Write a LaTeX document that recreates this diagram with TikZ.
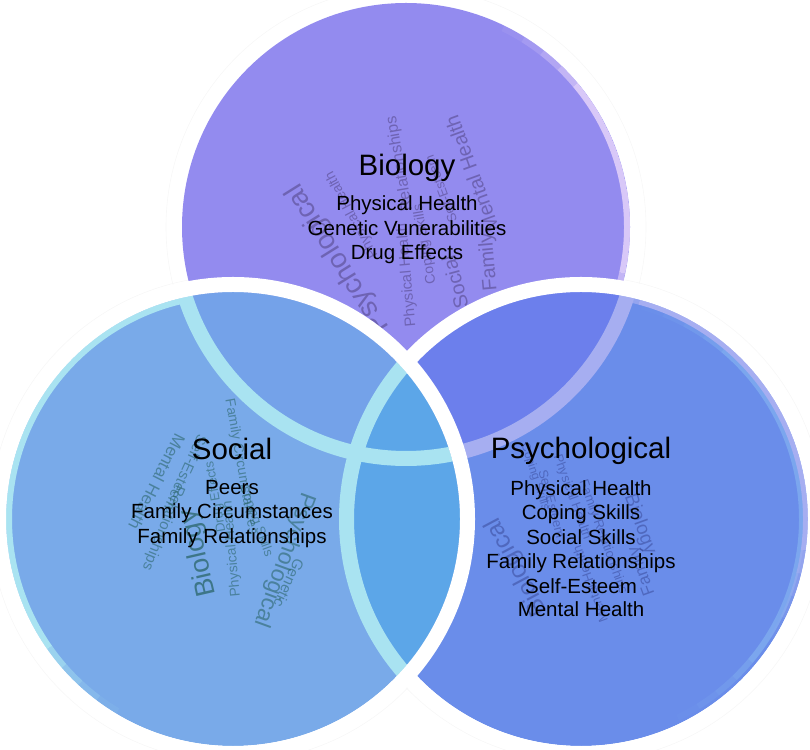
\documentclass[tikz,border=0pt]{standalone}
\usepackage{fontspec}
\setmainfont{Liberation Sans}
\definecolor{cT}{HTML}{938BEF}
\definecolor{cTrim}{HTML}{D8C8F8}
\definecolor{cR}{HTML}{6A8DEA}
\definecolor{cRT}{HTML}{6C7FEC}
\definecolor{cRrim}{HTML}{A6AEF1}
\definecolor{cRrimB}{HTML}{7BA6EE}
\definecolor{cL}{HTML}{79AAE9}
\definecolor{cLT}{HTML}{74A2E9}
\definecolor{cLR}{HTML}{5CA6E8}
\definecolor{cLrim}{HTML}{A9E3F1}
\definecolor{wT}{HTML}{4A3C78}
\definecolor{wL}{HTML}{24605F}
\definecolor{wR}{HTML}{33418F}
\tikzset{
  faintline/.style={draw=black!3,line width=0.6pt},
  whitering/.style={draw=white,line width=15pt},
  title/.style={font=\fontsize{29.5}{34}\selectfont,text=black,anchor=base},
  item/.style={font=\fontsize{20.5}{24}\selectfont,text=black,anchor=base},
  cloudT/.style={text=wT,opacity=0.5,inner sep=0pt},
  cloudL/.style={text=wL,opacity=0.55,inner sep=0pt},
  cloudR/.style={text=wR,opacity=0.48,inner sep=0pt},
}
\newcommand{\fsz}[1]{\fontsize{#1}{#1}\selectfont}
% \rimarc{centre}{radius}{start}{end}{colour}{width}: an arc whose two ends fade out
\newcommand{\rimarc}[6]{%
  \draw[#5,line width=#6pt] (#1) ++(#3:#2) arc[start angle=#3,end angle=#4,radius=#2];
  \foreach \k/\o in {1/0.7,2/0.45,3/0.25,4/0.1}{%
    \pgfmathsetmacro{\aa}{#3-6*\k}\pgfmathsetmacro{\ab}{#3-6*(\k-1)}%
    \pgfmathsetmacro{\ba}{#4+6*(\k-1)}\pgfmathsetmacro{\bb}{#4+6*\k}%
    \draw[#5,line width=#6pt,opacity=\o] (#1) ++(\aa:#2) arc[start angle=\aa,end angle=\ab,radius=#2];
    \draw[#5,line width=#6pt,opacity=\o] (#1) ++(\ba:#2) arc[start angle=\ba,end angle=\bb,radius=#2];
  }}
\begin{document}
\begin{tikzpicture}[x=1pt,y=1pt]
\useasboundingbox (0,0) rectangle (810,749);
\coordinate (T) at (406,522);
\coordinate (L) at (233,230);
\coordinate (R) at (581,230);
% faint outer edges of the white rings
\draw[faintline] (T) circle (240);
\draw[faintline] (L) circle (243);
\draw[faintline] (R) circle (243);
% ---------- Biology (top) ----------
\fill[cT] (T) circle (224);
\begin{scope}
  \clip (T) circle (224);
  \rimarc{T}{221}{-12}{40}{cTrim}{6}
\end{scope}
% cloud T
\node[cloudT,rotate=122,font=\fsz{28}] (t1) at (338,490) {Psychological};
\node[cloudT,rotate=110,font=\fsz{20}] (t2) at (472,575) {Mental Health};
\node[cloudT,rotate=100,font=\fsz{16}] (t3) at (400,585) {Relationships};
\node[cloudT,rotate=95,font=\fsz{20}] (t4) at (489,487) {Family};
\node[cloudT,rotate=105,font=\fsz{20}] (t5) at (455,467) {Social};
\node[cloudT,rotate=95,font=\fsz{15}] (t6) at (407,474) {Physical Health};
\node[cloudT,rotate=100,font=\fsz{14}] (t7) at (425,505) {Coping Skills};
\node[cloudT,rotate=118,font=\fsz{14}] (t8) at (352,534) {Physical Health};
\node[cloudT,rotate=110,font=\fsz{13}] (t9) at (441,560) {Self-Esteem};
% ---------- Psychological (right) ----------
\fill[cR] (R) circle (227);
\begin{scope}
  \clip (R) circle (227);
  \fill[cRT] (T) circle (224);
  \draw[cRrim,line width=15pt] (T) circle (231.5);
\end{scope}
\begin{scope}
  \clip (R) circle (227);
  \clip (0,0) rectangle (810,749) (T) circle (238);
  \rimarc{R}{221}{-40}{50}{cRrimB}{6}
  \rimarc{R}{224.5}{-8}{75}{cRrim}{5}
\end{scope}
\draw[whitering] (R) circle (234.5);
% cloud R
\node[cloudR,rotate=118,font=\fsz{25}] (r1) at (517,182) {Biological};
\node[cloudR,rotate=-75,font=\fsz{13}] (r2) at (552,245) {Self-Esteem};
\node[cloudR,rotate=-70,font=\fsz{13}] (r3) at (572,252) {Physical Health};
\node[cloudR,rotate=-70,font=\fsz{13}] (r4) at (603,212) {Family Relationships};
\node[cloudR,rotate=-70,font=\fsz{19}] (r5) at (640,225) {Biology};
\node[cloudR,rotate=110,font=\fsz{17}] (r6) at (642,178) {Family};
\node[cloudR,rotate=-72,font=\fsz{12}] (r7) at (535,272) {Coping Skills};
\node[cloudR,rotate=110,font=\fsz{13}] (r8) at (590,165) {Mental Health};
% ---------- Social (left) ----------
\fill[cL] (L) circle (227);
\begin{scope}
  \clip (L) circle (227);
  \fill[cLT] (T) circle (224);
  \fill[cLR] (R) circle (227);
  \draw[cLrim,line width=15pt] (T) circle (231.5);
  \draw[cLrim,line width=15pt] (R) circle (234.5);
\end{scope}
\begin{scope}
  \clip (L) circle (227);
  \clip (0,0) rectangle (810,749) (T) circle (238);
  \rimarc{L}{224}{100}{215}{cLrim}{6}
\end{scope}
\draw[whitering] (L) circle (234.5);
% cloud L
\node[cloudL,rotate=-117,font=\fsz{17}] (l1) at (157,267) {Mental Health};
\node[cloudL,rotate=-115,font=\fsz{15}] (l2) at (186,276) {Self-Esteem};
\node[cloudL,rotate=-112,font=\fsz{15}] (l3) at (163,221) {Relationships};
\node[cloudL,rotate=103,font=\fsz{27},opacity=0.7] (l4) at (199,196) {Biology};
\node[cloudL,rotate=-80,font=\fsz{14}] (l5) at (241,282) {Family Circumstances};
\node[cloudL,rotate=95,font=\fsz{14}] (l6) at (232,200) {Physical Health};
\node[cloudL,rotate=-110,font=\fsz{23}] (l7) at (284,189) {Psychological};
\node[cloudL,rotate=-115,font=\fsz{15}] (l8) at (289,166) {Genetic};
\node[cloudL,rotate=-70,font=\fsz{13}] (l9) at (256,228) {Coping Skills};
\node[cloudL,rotate=100,font=\fsz{13}] (l10) at (216,252) {Drug Effects};
% ---------- labels ----------
\node[title] (bio) at (407,573) {Biology};
\node[item] (b1) at (407,538) {Physical Health};
\node[item] (b2) at (407,513) {Genetic Vunerabilities};
\node[item] (b3) at (407,489) {Drug Effects};
\node[title] (soc) at (232,289) {Social};
\node[item] (s1) at (232,254) {Peers};
\node[item] (s2) at (232,230) {Family Circumstances};
\node[item] (s3) at (232,205) {Family Relationships};
\node[title] (psy) at (581,290) {Psychological};
\node[item] (p1) at (581,253) {Physical Health};
\node[item] (p2) at (581,229) {Coping Skills};
\node[item] (p3) at (581,204) {Social Skills};
\node[item] (p4) at (581,180) {Family Relationships};
\node[item] (p5) at (581,155) {Self-Esteem};
\node[item] (p6) at (581,132) {Mental Health};
\end{tikzpicture}
\end{document}
